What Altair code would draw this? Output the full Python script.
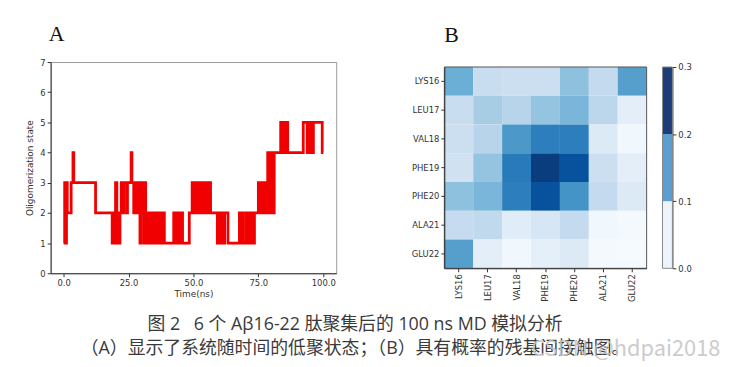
import altair as alt
import pandas as pd

# ---------------- Panel A data: oligomerization state vs time (step-after) ----------------
time_ns = [0, 0.4, 0.7, 1.1, 1.4, 2.9, 3.6, 3.9, 12.3, 18.7, 19.1, 19.6, 20.0, 20.5, 20.9,
           21.3, 21.7, 22.2, 22.7, 23.2, 24.3, 24.6, 26.0, 26.3, 27.0, 27.4, 27.9, 28.3,
           28.7, 29.0, 29.4, 29.8, 30.3, 30.6, 30.9, 31.3, 31.6, 32.1, 32.5, 32.9, 33.3,
           34.0, 34.3, 35.2, 35.6, 36.6, 37.0, 37.5, 37.9, 38.8, 42.4, 43.0, 43.4, 44.0,
           44.3, 45.0, 45.4, 45.8, 48.4, 49.5, 50.0, 50.4, 51.4, 52.0, 52.4, 53.0, 53.5,
           54.0, 54.7, 55.0, 55.6, 56.2, 56.6, 59.2, 59.7, 60.5, 61.0, 61.5, 62.0, 63.3,
           67.7, 68.5, 68.8, 69.3, 70.4, 70.8, 71.3, 72.0, 72.3, 73.0, 73.5, 75.0, 75.2,
           76.0, 76.3, 77.3, 77.6, 77.9, 78.3, 78.6, 78.9, 79.2, 79.5, 79.8, 80.1, 80.4,
           80.7, 81.1, 83.6, 84.0, 84.4, 84.8, 85.2, 85.6, 86.0, 86.3, 92.3, 93.8, 94.4,
           95.2, 96.2, 99.6, 100.0]
state = [1, 3, 1, 3, 2, 3, 4, 3, 2, 1, 2, 1, 3, 1, 2,
         1, 2, 3, 2, 3, 2, 3, 4, 3, 2, 3, 2, 3,
         2, 3, 1, 3, 2, 3, 1, 3, 2, 1, 2, 1, 2,
         1, 2, 1, 2, 1, 2, 1, 2, 1, 2, 1, 2, 1,
         2, 1, 2, 1, 2, 3, 2, 3, 2, 3, 2, 3, 2,
         3, 2, 3, 2, 3, 2, 1, 2, 1, 2, 1, 2, 1,
         2, 1, 2, 1, 2, 1, 2, 1, 2, 1, 2, 3, 2,
         3, 2, 3, 2, 3, 2, 4, 2, 4, 2, 4, 2, 4,
         2, 4, 5, 4, 5, 4, 5, 4, 5, 4, 5, 4, 5,
         4, 5, 4, 4]

x_ticks = [0, 25, 50, 75, 100]
y_ticks = [0, 1, 2, 3, 4, 5, 6, 7]

# ---------------- Panel B data: residue contact probability map ----------------
residues = ["LYS16", "LEU17", "VAL18", "PHE19", "PHE20", "ALA21", "GLU22"]
contact = [
    [0.150, 0.070, 0.065, 0.065, 0.125, 0.077, 0.170],
    [0.070, 0.105, 0.090, 0.120, 0.140, 0.085, 0.030],
    [0.065, 0.090, 0.180, 0.210, 0.210, 0.040, 0.010],
    [0.060, 0.120, 0.215, 0.285, 0.262, 0.065, 0.030],
    [0.125, 0.140, 0.210, 0.262, 0.185, 0.077, 0.040],
    [0.075, 0.080, 0.035, 0.050, 0.077, 0.010, 0.005],
    [0.170, 0.030, 0.010, 0.028, 0.040, 0.005, 0.003],
]
cbar_lo = [0.0, 0.1, 0.2]
cbar_hi = [0.1, 0.2, 0.3]
cbar_colors = ["#edf4fb", "#5b9ed1", "#1c3d78"]
cbar_ticks = [0.0, 0.1, 0.2, 0.3]

caption_lines = ["图 2\u2002 6 个 Aβ16-22 肽聚集后的 100 ns MD 模拟分析",
                 "（A）显示了系统随时间的低聚状态；（B）具有概率的残基间接触图。"]
watermark = "CSDN @hdpai2018"

blues_range = ["#f7fbff", "#deebf7", "#c6dbef", "#9ecae1", "#6baed6",
               "#4292c6", "#2171b5", "#08519c", "#08306b"]
blues_domain = [0, 0.0375, 0.075, 0.1125, 0.15, 0.1875, 0.225, 0.2625, 0.3]

# ---------------- build tables ----------------
df_a = pd.DataFrame({"t": time_ns, "s": state})
rows = []
for i, r in enumerate(residues):
    for j, c in enumerate(residues):
        rows.append({"row": r, "col": c, "v": contact[i][j]})
df_b = pd.DataFrame(rows)
df_c = pd.DataFrame({"lo": cbar_lo, "hi": cbar_hi, "c": cbar_colors})
df_cap = pd.DataFrame({"line": [1, 2], "text": caption_lines})
df_one = pd.DataFrame({"k": [0]})

AX = dict(labelFont="DejaVu Sans", labelFontSize=8.5, labelColor="#333333",
          tickColor="#333333", domainColor="#333333", tickSize=3.5, labelPadding=2,
          titleFont="DejaVu Sans", titleFontSize=9, titleFontWeight="normal",
          titleColor="#333333", grid=False)

TITLE_FONT = "Liberation Serif"
HW, HH, TOP = 204, 208, 5   # heat-map panel: width, full height, top inset

panel_a = alt.Chart(df_a).mark_line(interpolate="step-after", color="#f00000",
                                    strokeWidth=2.8).encode(
    x=alt.X("t:Q", scale=alt.Scale(domain=[-5, 105], nice=False, zero=False),
            axis=alt.Axis(values=x_ticks, format=".1f", title="Time(ns)", titlePadding=2, **AX)),
    y=alt.Y("s:Q", scale=alt.Scale(domain=[0, 7], nice=False),
            axis=alt.Axis(values=y_ticks, format="d", title="Oligomerization state",
                          titlePadding=5, **AX)),
).properties(
    width=288, height=213,
    view=alt.ViewConfig(stroke="#999999", strokeWidth=1),
    title=alt.TitleParams("A", font=TITLE_FONT, fontSize=22, fontWeight="normal",
                          anchor="start", frame="group", offset=12, dx=-2,
                          color="#111111"),
)

heat_cells = alt.Chart(df_b).mark_rect().encode(
    x=alt.X("col:N", sort=residues,
            axis=alt.Axis(labelAngle=270, title=None, **AX)),
    y=alt.Y("row:N", sort=residues, scale=alt.Scale(range=[TOP, HH]),
            axis=alt.Axis(title=None, **AX)),
    color=alt.Color("v:Q", scale=alt.Scale(domain=blues_domain, range=blues_range),
                    legend=None),
)
heat_frame = alt.Chart(df_one).mark_rect(filled=False, stroke="#555555", strokeWidth=1).encode(
    x=alt.value(0), x2=alt.value(HW), y=alt.value(TOP), y2=alt.value(HH))

heat = alt.layer(heat_cells, heat_frame).properties(
    width=HW, height=HH,
    view=alt.ViewConfig(stroke=None),
    title=alt.TitleParams("B", font=TITLE_FONT, fontSize=22, fontWeight="normal",
                          anchor="start", frame="group", offset=15, color="#111111"),
)

cbar_rects = alt.Chart(df_c).mark_rect().encode(
    x=alt.value(0), x2=alt.value(10),
    y=alt.Y("lo:Q", scale=alt.Scale(domain=[0, 0.3], nice=False, range=[HH, TOP]),
            axis=alt.Axis(orient="right", values=cbar_ticks, format=".1f", title=None,
                          **AX)),
    y2="hi:Q",
    color=alt.Color("c:N", scale=None),
)
cbar_frame = alt.Chart(df_one).mark_rect(filled=False, stroke="#888888", strokeWidth=1).encode(
    x=alt.value(0), x2=alt.value(10), y=alt.value(TOP), y2=alt.value(HH))

cbar = alt.layer(cbar_rects, cbar_frame).properties(
    width=10, height=HH,
    view=alt.ViewConfig(stroke=None),
    title=alt.TitleParams("B", font=TITLE_FONT, fontSize=22, fontWeight="normal",
                          anchor="start", frame="group", offset=15, color="transparent"),
)

caption_text = alt.Chart(df_cap).mark_text(
    font="Open Sans, Noto Sans CJK SC", fontSize=18, color="#3a3a3a",
    baseline="middle", align="center"
).encode(
    x=alt.value(307),
    y=alt.Y("line:O", axis=None),
    text="text:N",
)
wm = alt.Chart(pd.DataFrame({"w": [watermark]})).mark_text(
    font="Noto Sans CJK SC", fontSize=22, color="#c4c4c4", opacity=0.85,
    baseline="middle", align="center"
).encode(x=alt.value(580), y=alt.value(36), text="w:N")

caption = alt.layer(caption_text, wm).properties(
    width=655, height=48, view=alt.ViewConfig(stroke=None))

top = alt.hconcat(panel_a, alt.hconcat(heat, cbar, spacing=14), spacing=74)

chart = alt.vconcat(top, caption, spacing=11).properties(
    padding={"left": 17, "top": 13, "right": 0, "bottom": 0},
    background="white",
).configure_view(stroke=None)

chart.save("out.html", embed_options={"renderer": "svg", "actions": False})
